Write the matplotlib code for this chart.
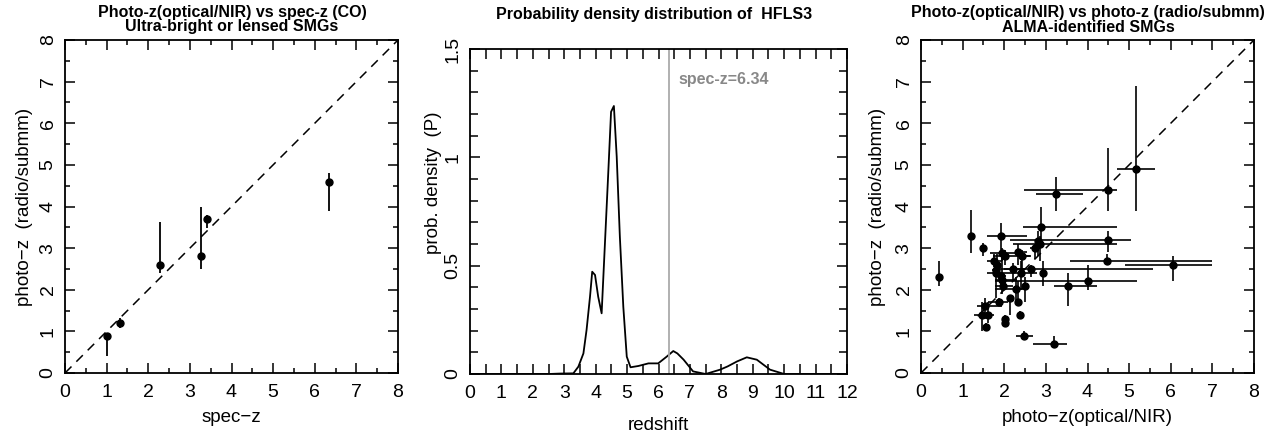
import numpy as np
import matplotlib
matplotlib.use("Agg")
import matplotlib.pyplot as plt
from matplotlib.ticker import MultipleLocator, FixedLocator

plt.rcParams['font.family'] = ['Liberation Sans', 'DejaVu Sans']

# ---------------- data ----------------
# Panel 1: spec-z vs photo-z (radio/submm)
p1_specz = [1.02, 1.32, 2.29, 3.26, 3.40, 6.34]
p1_photz = [0.90, 1.20, 2.60, 2.80, 3.70, 4.60]
p1_ylo = [0.40, 1.08, 2.40, 2.50, 3.48, 3.90]
p1_yhi = [0.95, 1.32, 3.62, 4.00, 3.80, 4.80]

# Panel 2: probability density of HFLS3
p2_z = [0.0, 2.5, 2.86, 3.29, 3.45, 3.61, 3.71, 3.82, 3.89, 3.98, 4.08, 4.19, 4.30, 4.40,
        4.49, 4.58, 4.67, 4.77, 4.88, 4.99, 5.11, 5.36, 5.68, 5.99, 6.26, 6.47, 6.6, 6.8,
        7.1, 7.5, 7.96, 8.2, 8.5, 8.81, 9.13, 9.55, 10.0, 12.0]
p2_p = [0.0, 0.0, 0.002, 0.003, 0.034, 0.095, 0.203, 0.357, 0.472, 0.457, 0.357, 0.28, 0.618,
        0.926, 1.21, 1.237, 1.003, 0.634, 0.31, 0.08, 0.031, 0.037, 0.049, 0.049, 0.08, 0.106,
        0.095, 0.066, 0.012, 0.0, 0.02, 0.035, 0.058, 0.077, 0.066, 0.02, 0.0, 0.0]
p2_specz = 6.34

# Panel 3: photo-z(optical/NIR) vs photo-z(radio/submm)
p3_x = [0.44, 1.21, 1.50, 1.92, 1.95, 2.01, 1.76, 1.82, 1.81, 1.80, 1.92, 1.94, 1.98, 2.22,
        2.28, 2.33, 2.43, 2.41, 2.49, 2.65, 2.94, 2.89, 2.74, 2.82, 2.86, 3.24, 4.49, 5.17,
        4.49, 4.46, 6.05, 4.00, 3.52, 3.19, 2.47, 2.38, 2.32, 2.13, 2.03, 2.03, 1.87, 1.54,
        1.47, 1.62, 1.55]
p3_y = [2.30, 3.30, 3.00, 3.30, 2.88, 2.82, 2.70, 2.60, 2.48, 2.40, 2.32, 2.24, 2.09, 2.50,
        2.01, 2.90, 2.80, 2.40, 2.10, 2.50, 2.40, 3.50, 3.00, 3.18, 3.10, 4.30, 4.40, 4.90,
        3.20, 2.70, 2.60, 2.20, 2.10, 0.70, 0.90, 1.40, 1.70, 1.80, 1.30, 1.20, 1.70, 1.60,
        1.40, 1.40, 1.10]
p3_xlo = [0.44, 1.21, 1.45, 1.58, 1.66, 1.74, 1.58, 1.82, 1.70, 1.58, 1.78, 1.78, 1.78, 2.00,
          1.78, 2.25, 2.35, 2.00, 2.49, 1.82, 2.88, 2.46, 2.62, 2.82, 2.22, 2.77, 2.48, 4.70,
          2.14, 3.58, 4.90, 1.78, 3.20, 2.70, 2.28, 2.32, 2.32, 2.10, 2.03, 2.03, 1.60, 1.34,
          1.28, 1.50, 1.50]
p3_xhi = [0.44, 1.21, 1.55, 2.54, 2.38, 2.62, 1.94, 1.82, 1.90, 2.00, 2.05, 2.30, 2.20, 2.50,
          2.46, 2.55, 2.65, 2.78, 2.49, 5.58, 3.00, 4.70, 2.86, 2.82, 4.70, 3.90, 4.70, 5.62,
          5.05, 7.00, 7.00, 5.20, 4.22, 3.50, 2.70, 2.45, 2.32, 2.20, 2.03, 2.03, 2.10, 1.94,
          1.56, 1.75, 1.62]
p3_ylo = [2.08, 2.88, 2.82, 2.96, 2.70, 2.60, 2.55, 2.30, 2.30, 1.80, 2.32, 1.90, 2.09, 2.20,
          1.70, 2.60, 2.30, 2.00, 1.70, 2.30, 2.10, 3.00, 2.75, 2.80, 2.70, 3.90, 3.88, 3.88,
          2.90, 2.60, 2.20, 2.00, 1.60, 0.60, 0.82, 1.30, 1.60, 1.40, 1.10, 1.10, 1.60, 1.30,
          1.00, 1.20, 1.00]
p3_yhi = [2.68, 3.92, 3.12, 3.60, 3.00, 2.95, 2.85, 2.85, 2.70, 2.60, 2.32, 2.90, 2.09, 2.65,
          2.30, 3.10, 2.95, 2.70, 2.30, 2.60, 2.70, 4.00, 3.10, 3.40, 3.30, 4.70, 5.40, 6.90,
          3.42, 2.85, 2.80, 2.60, 2.40, 0.90, 1.00, 1.50, 2.20, 1.80, 1.40, 1.30, 1.80, 1.80,
          1.70, 1.70, 1.20]

# ---------------- figure ----------------
W, H = 1276, 434
fig = plt.figure(figsize=(W / 100, H / 100), dpi=100)


def add_ax(l, r, t, b):
    return fig.add_axes([l / W, 1 - b / H, (r - l) / W, (b - t) / H])


ax1 = add_ax(65, 398, 40, 373)
ax2 = add_ax(470, 847, 49, 374)
ax3 = add_ax(921, 1254, 40, 373)

TICKFS = 14
LABFS = 13.5


def style(ax):
    for s in ax.spines.values():
        s.set_linewidth(1.3)
    ax.tick_params(which='both', direction='in', top=True, right=True, width=1.1,
                   labelsize=TICKFS)
    ax.tick_params(axis='x', pad=8)
    ax.tick_params(axis='y', pad=6, labelrotation=90)
    ax.tick_params(which='major', length=7)
    ax.tick_params(which='minor', length=3.5)
    for lab in ax.get_yticklabels():
        lab.set_va('center')


def labels(ax, xl, yl, xpix_from_left, ypix_below, height, width, yfrac=0.5):
    ax.set_xlabel(xl, fontsize=LABFS)
    ax.set_ylabel(yl, fontsize=LABFS)
    ax.xaxis.label.set_va('center')
    ax.yaxis.label.set_va('center')
    ax.yaxis.label.set_ha('center')
    ax.xaxis.set_label_coords(0.5, -ypix_below / height)
    ax.yaxis.set_label_coords(-xpix_from_left / width, yfrac)


for ax in (ax1, ax3):
    ax.set_xlim(0, 8)
    ax.set_ylim(0, 8)
    ax.xaxis.set_major_locator(MultipleLocator(1))
    ax.yaxis.set_major_locator(MultipleLocator(1))
    ax.xaxis.set_minor_locator(MultipleLocator(0.5))
    ax.yaxis.set_minor_locator(MultipleLocator(0.5))
    ax.plot([0, 8], [0, 8], color='black', lw=1.1, ls=(0, (6, 4.5)))
    style(ax)

# Panel 1
x1 = np.array(p1_specz)
y1 = np.array(p1_photz)
ax1.errorbar(x1, y1, yerr=[y1 - np.array(p1_ylo), np.array(p1_yhi) - y1], fmt='o',
             color='black', ms=5, elinewidth=1.3, capsize=0)
labels(ax1, 'spec−z', 'photo−z  (radio/submm)', 40, 44, 333, 333)

# Panel 3
x3 = np.array(p3_x)
y3 = np.array(p3_y)
ax3.errorbar(x3, y3,
             xerr=[x3 - np.array(p3_xlo), np.array(p3_xhi) - x3],
             yerr=[y3 - np.array(p3_ylo), np.array(p3_yhi) - y3],
             fmt='o', color='black', ms=5, elinewidth=1.2, capsize=0)
labels(ax3, 'photo−z(optical/NIR)', 'photo−z  (radio/submm)', 43, 44, 333, 333)

# Panel 2
ax2.plot(p2_z, p2_p, color='black', lw=1.3)
ax2.axvline(p2_specz, color='#aaaaaa', lw=1.3)
ax2.text(6.63, 1.36, 'spec-z=6.34', color='#888888', fontsize=11.5, fontweight='bold',
         va='center', ha='left')
ax2.set_xlim(0, 12)
ax2.set_ylim(0, 1.5)
ax2.xaxis.set_major_locator(MultipleLocator(1))
ax2.xaxis.set_minor_locator(MultipleLocator(0.5))
ax2.yaxis.set_major_locator(FixedLocator([0, 0.5, 1, 1.5]))
ax2.yaxis.set_minor_locator(MultipleLocator(0.1))
ax2.set_yticklabels(['0', '0.5', '1', '1.5'])
style(ax2)
ax2.tick_params(axis='x', which='minor', length=7)
ax2.tick_params(axis='y', which='minor', length=6)
labels(ax2, 'redshift', 'prob. density  (P)', 37, 51, 325, 377, yfrac=0.59)

# Titles
TFS = 11.5


def ftext(xp, yp, s):
    fig.text(xp / W, 1 - yp / H, s, ha='center', va='center', fontsize=TFS,
             fontweight='bold')


ftext(232, 13, 'Photo-z(optical/NIR) vs spec-z (CO)')
ftext(232, 27, 'Ultra-bright or lensed SMGs')
ftext(654, 15, 'Probability density distribution of  HFLS3')
ftext(1088, 13, 'Photo-z(optical/NIR) vs photo-z (radio/submm)')
ftext(1088, 27, 'ALMA-identified SMGs')

fig.savefig('out.png', dpi=100)
